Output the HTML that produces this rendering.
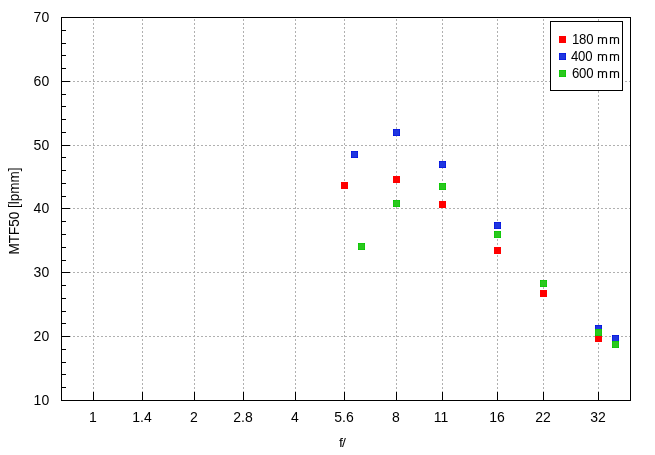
<!DOCTYPE html>
<html><head><meta charset="utf-8"><style>
html,body{margin:0;padding:0;background:#fff;}
body{width:655px;height:455px;position:relative;overflow:hidden;font-family:"Liberation Sans", sans-serif;color:#000;}
svg{position:absolute;left:0;top:0;}
.t{position:absolute;font-size:14px;line-height:18px;white-space:nowrap;filter:grayscale(1);}
.yl{left:0;width:49.7px;text-align:right;letter-spacing:0.3px;}
.xl{top:408px;width:60px;text-align:center;}
.lg{left:571px;letter-spacing:-0.3px;transform:scaleX(0.94);transform-origin:1px 0;will-change:auto;filter:grayscale(1);}
.m{left:597px;transform:scaleX(0.88);transform-origin:1px 0;}
.m2{left:609px;transform:scaleX(0.88);transform-origin:1px 0;}
</style></head><body>
<svg width="655" height="455" viewBox="0 0 655 455" shape-rendering="crispEdges" fill="none">
<path d="M61 81.5H630" stroke="#b0b0b0" stroke-dasharray="2 2"/>
<path d="M61 145.5H630" stroke="#b0b0b0" stroke-dasharray="2 2"/>
<path d="M61 208.5H630" stroke="#b0b0b0" stroke-dasharray="2 2"/>
<path d="M61 272.5H630" stroke="#b0b0b0" stroke-dasharray="2 2"/>
<path d="M61 336.5H630" stroke="#b0b0b0" stroke-dasharray="2 2"/>
<path d="M93.5 401V17" stroke="#b0b0b0" stroke-dasharray="2 2"/>
<path d="M142.5 401V17" stroke="#b0b0b0" stroke-dasharray="2 2"/>
<path d="M194.5 401V17" stroke="#b0b0b0" stroke-dasharray="2 2"/>
<path d="M243.5 401V17" stroke="#b0b0b0" stroke-dasharray="2 2"/>
<path d="M295.5 401V17" stroke="#b0b0b0" stroke-dasharray="2 2"/>
<path d="M344.5 401V17" stroke="#b0b0b0" stroke-dasharray="2 2"/>
<path d="M396.5 401V17" stroke="#b0b0b0" stroke-dasharray="2 2"/>
<path d="M442.5 401V17" stroke="#b0b0b0" stroke-dasharray="2 2"/>
<path d="M497.5 401V17" stroke="#b0b0b0" stroke-dasharray="2 2"/>
<path d="M543.5 401V17" stroke="#b0b0b0" stroke-dasharray="2 2"/>
<path d="M598.5 401V17" stroke="#b0b0b0" stroke-dasharray="2 2"/>
<path d="M61 17.5H70 M61 81.5H70 M61 145.5H70 M61 208.5H70 M61 272.5H70 M61 336.5H70 M61 400.5H70 M61 387.5H66 M61 374.5H66 M61 362.5H66 M61 349.5H66 M61 323.5H66 M61 311.5H66 M61 298.5H66 M61 285.5H66 M61 260.5H66 M61 247.5H66 M61 234.5H66 M61 221.5H66 M61 196.5H66 M61 183.5H66 M61 170.5H66 M61 157.5H66 M61 132.5H66 M61 119.5H66 M61 106.5H66 M61 94.5H66 M61 68.5H66 M61 55.5H66 M61 43.5H66 M61 30.5H66 M93.5 401V392 M142.5 401V392 M194.5 401V392 M243.5 401V392 M295.5 401V392 M344.5 401V392 M396.5 401V392 M442.5 401V392 M497.5 401V392 M543.5 401V392 M598.5 401V392" stroke="#000"/>
<rect x="61.5" y="17.5" width="569" height="383" fill="none" stroke="#000"/>
<rect x="341" y="182" width="7" height="7" fill="#ff0000"/><rect x="342" y="183" width="5" height="5" fill="#ff0000"/>
<rect x="393" y="176" width="7" height="7" fill="#ff0000"/><rect x="394" y="177" width="5" height="5" fill="#ff0000"/>
<rect x="439" y="201" width="7" height="7" fill="#ff0000"/><rect x="440" y="202" width="5" height="5" fill="#ff0000"/>
<rect x="494" y="247" width="7" height="7" fill="#ff0000"/><rect x="495" y="248" width="5" height="5" fill="#ff0000"/>
<rect x="540" y="290" width="7" height="7" fill="#ff0000"/><rect x="541" y="291" width="5" height="5" fill="#ff0000"/>
<rect x="595" y="335" width="7" height="7" fill="#ff0000"/><rect x="596" y="336" width="5" height="5" fill="#ff0000"/>
<rect x="351" y="151" width="7" height="7" fill="#0e20e0"/><rect x="352" y="152" width="5" height="5" fill="#1f36e0"/><path d="M351 151h1v1h-1zM357 151h1v1h-1zM351 157h1v1h-1zM357 157h1v1h-1z" fill="#0010e0"/>
<rect x="393" y="129" width="7" height="7" fill="#0e20e0"/><rect x="394" y="130" width="5" height="5" fill="#1f36e0"/><path d="M393 129h1v1h-1zM399 129h1v1h-1zM393 135h1v1h-1zM399 135h1v1h-1z" fill="#0010e0"/>
<rect x="439" y="161" width="7" height="7" fill="#0e20e0"/><rect x="440" y="162" width="5" height="5" fill="#1f36e0"/><path d="M439 161h1v1h-1zM445 161h1v1h-1zM439 167h1v1h-1zM445 167h1v1h-1z" fill="#0010e0"/>
<rect x="494" y="222" width="7" height="7" fill="#0e20e0"/><rect x="495" y="223" width="5" height="5" fill="#1f36e0"/><path d="M494 222h1v1h-1zM500 222h1v1h-1zM494 228h1v1h-1zM500 228h1v1h-1z" fill="#0010e0"/>
<rect x="595" y="325" width="7" height="7" fill="#0e20e0"/><rect x="596" y="326" width="5" height="5" fill="#1f36e0"/><path d="M595 325h1v1h-1zM601 325h1v1h-1zM595 331h1v1h-1zM601 331h1v1h-1z" fill="#0010e0"/>
<rect x="612" y="335" width="7" height="7" fill="#0e20e0"/><rect x="613" y="336" width="5" height="5" fill="#1f36e0"/><path d="M612 335h1v1h-1zM618 335h1v1h-1zM612 341h1v1h-1zM618 341h1v1h-1z" fill="#0010e0"/>
<rect x="358" y="243" width="7" height="7" fill="#16c80c"/><rect x="359" y="244" width="5" height="5" fill="#2ac81e"/><path d="M358 243h1v1h-1zM364 243h1v1h-1zM358 249h1v1h-1zM364 249h1v1h-1z" fill="#00c800"/>
<rect x="393" y="200" width="7" height="7" fill="#16c80c"/><rect x="394" y="201" width="5" height="5" fill="#2ac81e"/><path d="M393 200h1v1h-1zM399 200h1v1h-1zM393 206h1v1h-1zM399 206h1v1h-1z" fill="#00c800"/>
<rect x="439" y="183" width="7" height="7" fill="#16c80c"/><rect x="440" y="184" width="5" height="5" fill="#2ac81e"/><path d="M439 183h1v1h-1zM445 183h1v1h-1zM439 189h1v1h-1zM445 189h1v1h-1z" fill="#00c800"/>
<rect x="494" y="231" width="7" height="7" fill="#16c80c"/><rect x="495" y="232" width="5" height="5" fill="#2ac81e"/><path d="M494 231h1v1h-1zM500 231h1v1h-1zM494 237h1v1h-1zM500 237h1v1h-1z" fill="#00c800"/>
<rect x="540" y="280" width="7" height="7" fill="#16c80c"/><rect x="541" y="281" width="5" height="5" fill="#2ac81e"/><path d="M540 280h1v1h-1zM546 280h1v1h-1zM540 286h1v1h-1zM546 286h1v1h-1z" fill="#00c800"/>
<rect x="595" y="329" width="7" height="7" fill="#16c80c"/><rect x="596" y="330" width="5" height="5" fill="#2ac81e"/><path d="M595 329h1v1h-1zM601 329h1v1h-1zM595 335h1v1h-1zM601 335h1v1h-1z" fill="#00c800"/>
<rect x="612" y="341" width="7" height="7" fill="#16c80c"/><rect x="613" y="342" width="5" height="5" fill="#2ac81e"/><path d="M612 341h1v1h-1zM618 341h1v1h-1zM612 347h1v1h-1zM618 347h1v1h-1z" fill="#00c800"/>
<rect x="550.5" y="21.5" width="72" height="69" fill="#fff" stroke="#000"/>
<rect x="559" y="36" width="7" height="7" fill="#ff0000"/><rect x="560" y="37" width="5" height="5" fill="#ff0000"/>
<rect x="559" y="53" width="7" height="7" fill="#0e20e0"/><rect x="560" y="54" width="5" height="5" fill="#1f36e0"/><path d="M559 53h1v1h-1zM565 53h1v1h-1zM559 59h1v1h-1zM565 59h1v1h-1z" fill="#0010e0"/>
<rect x="559" y="70" width="7" height="7" fill="#16c80c"/><rect x="560" y="71" width="5" height="5" fill="#2ac81e"/><path d="M559 70h1v1h-1zM565 70h1v1h-1zM559 76h1v1h-1zM565 76h1v1h-1z" fill="#00c800"/>
<path d="M598.5 37V44M602.5 38.6V44M606.5 38.6V44M598.5 39C598.5 37.8 599.5 37.5 600.5 37.5C601.8 37.5 602.5 37.9 602.5 39M602.5 39C602.5 37.8 603.5 37.5 604.5 37.5C605.8 37.5 606.5 37.9 606.5 39M610.5 37V44M614.5 38.6V44M618.5 38.6V44M610.5 39C610.5 37.8 611.5 37.5 612.5 37.5C613.8 37.5 614.5 37.9 614.5 39M614.5 39C614.5 37.8 615.5 37.5 616.5 37.5C617.8 37.5 618.5 37.9 618.5 39M598.5 54V61M602.5 55.6V61M606.5 55.6V61M598.5 56C598.5 54.8 599.5 54.5 600.5 54.5C601.8 54.5 602.5 54.9 602.5 56M602.5 56C602.5 54.8 603.5 54.5 604.5 54.5C605.8 54.5 606.5 54.9 606.5 56M610.5 54V61M614.5 55.6V61M618.5 55.6V61M610.5 56C610.5 54.8 611.5 54.5 612.5 54.5C613.8 54.5 614.5 54.9 614.5 56M614.5 56C614.5 54.8 615.5 54.5 616.5 54.5C617.8 54.5 618.5 54.9 618.5 56M598.5 71V78M602.5 72.6V78M606.5 72.6V78M598.5 73C598.5 71.8 599.5 71.5 600.5 71.5C601.8 71.5 602.5 71.9 602.5 73M602.5 73C602.5 71.8 603.5 71.5 604.5 71.5C605.8 71.5 606.5 71.9 606.5 73M610.5 71V78M614.5 72.6V78M618.5 72.6V78M610.5 73C610.5 71.8 611.5 71.5 612.5 71.5C613.8 71.5 614.5 71.9 614.5 73M614.5 73C614.5 71.8 615.5 71.5 616.5 71.5C617.8 71.5 618.5 71.9 618.5 73" stroke="#000" stroke-width="1.15" shape-rendering="geometricPrecision"/>
</svg>
<div class="t yl" style="top:8px">70</div><div class="t yl" style="top:72px">60</div><div class="t yl" style="top:136px">50</div><div class="t yl" style="top:199px">40</div><div class="t yl" style="top:263px">30</div><div class="t yl" style="top:327px">20</div><div class="t yl" style="top:391px">10</div><div class="t xl" style="left:63px">1</div><div class="t xl" style="left:112px">1.4</div><div class="t xl" style="left:164px">2</div><div class="t xl" style="left:213px">2.8</div><div class="t xl" style="left:265px">4</div><div class="t xl" style="left:314px">5.6</div><div class="t xl" style="left:366px">8</div><div class="t xl" style="left:411px">11</div><div class="t xl" style="left:467px">16</div><div class="t xl" style="left:513px">22</div><div class="t xl" style="left:568px">32</div>
<div class="t lg" style="top:30px;left:572px">180</div>
<div class="t lg" style="top:47px">400</div>
<div class="t lg" style="top:64px;left:572px">600</div>
<div class="t" style="left:339px;top:434px;letter-spacing:-1px;transform:scaleY(0.92);transform-origin:0 3px">f/</div>
<div class="t" style="left:-35.6px;top:201.5px;width:100px;text-align:center;transform:rotate(-90deg) scaleX(0.966)">MTF50 [lpmm]</div>
</body></html>
